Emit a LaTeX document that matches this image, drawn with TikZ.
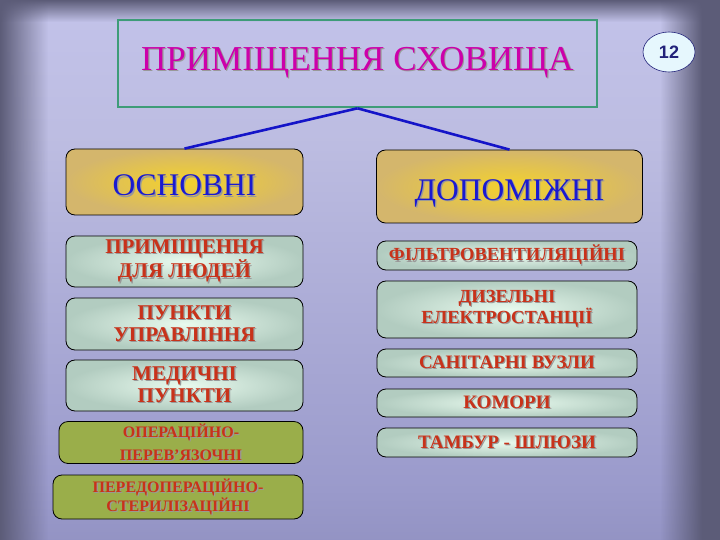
\documentclass[tikz,border=0pt]{standalone}
\usepackage{fontspec}
\setmainfont{Liberation Serif}
\newfontfamily\numfont{Liberation Sans}
\usetikzlibrary{shapes.geometric,fadings}

\definecolor{bgdark}{HTML}{5C5C78}
\definecolor{titleline}{HTML}{3E9C78}
\definecolor{titletext}{HTML}{CC00AA}
\definecolor{linkblue}{HTML}{1414C8}
\definecolor{goldout}{HTML}{D4B66C}
\definecolor{goldin}{HTML}{F4D22C}
\definecolor{mintout}{HTML}{B2CCC0}
\definecolor{mintin}{HTML}{E8FAEE}
\definecolor{olive}{HTML}{9AAE4A}
\definecolor{redtext}{HTML}{C8321A}
\definecolor{bluetext}{HTML}{1A1AD0}
\definecolor{numtext}{HTML}{22227A}

\pgfdeclareverticalshading{bgfall}{100bp}{color(0bp)=(bgdark!80!white!90!blue);
  color(30bp)=(bgdark!45!white!85!blue); color(62bp)=(bgdark!25!white!88!blue);
  color(86bp)=(bgdark!12!white!85!blue); color(95bp)=(bgdark!15!white!85!blue);
  color(100bp)=(bgdark!90!white)}
\tikzfading[name=fadeR, left color=transparent!0, right color=transparent!100]
\tikzfading[name=fadeL, left color=transparent!100, right color=transparent!0]
\tikzfading[name=fadeD, top color=transparent!0, bottom color=transparent!100]

% text with a soft grey shadow
\newcommand\shd[1]{\leavevmode\rlap{\kern1.2pt\raisebox{-1.2pt}{\textcolor{black!40}{#1}}}#1}

\tikzset{
  basebox/.style={draw=black, line width=0.8pt, rounded corners=9pt, align=center, inner sep=2pt},
  goldbox/.style={basebox, shade, inner color=goldin, outer color=goldout, text=bluetext,
    font=\fontsize{31.5}{33}\selectfont, text height=30, text depth=2, minimum height=66},
  mintbox/.style={basebox, shade, inner color=mintin, outer color=mintout, text=redtext,
    font=\bfseries\fontsize{21}{22}\selectfont},
  olivebox/.style={basebox, fill=olive, text=redtext, font=\bfseries\fontsize{16}{23}\selectfont},
  link/.style={draw=linkblue, line width=2.6pt}
}

\begin{document}
\begin{tikzpicture}[x=1pt,y=-1pt]
    % background
    \useasboundingbox (0,0) rectangle (720,540);
    \fill[bgdark] (0,0) rectangle (720,540);
    \shade[shading=bgfall] (0,0) rectangle (720,540);
    \fill[bgdark, path fading=fadeR] (0,0) rectangle (48,540);
    \fill[bgdark, path fading=fadeD] (0,0) rectangle (720,22);
    \fill[bgdark, path fading=fadeL] (660,0) rectangle (702,540);
    \fill[bgdark] (702,0) rectangle (720,540);

    % top
    \node[draw=titleline, line width=2.6pt, minimum width=479, minimum height=87,
      text=titletext, font=\fontsize{35}{37}\selectfont] (title) at (357.5,63.5) {\shd{ПРИМІЩЕННЯ СХОВИЩА}};
    \node[ellipse, draw=numtext, line width=0.6pt, fill=cyan!10!white,
      minimum width=52, minimum height=40, inner sep=0pt, text=numtext,
      font=\numfont\bfseries\fontsize{18}{20}\selectfont] (num) at (669,52) {12};

    \node[goldbox, minimum width=237] (osn) at (184.5,182) {\shd{ОСНОВНІ}};
    \node[goldbox, minimum width=266, minimum height=73] (dop) at (509.5,186.5) {\shd{ДОПОМІЖНІ}};

    \draw[link] (title.south) -- (osn.north);
    \draw[link] (title.south) -- (dop.north);

    % left column
    \node[mintbox, minimum width=237, minimum height=51] (lyudi) at (184.5,261.5) {\shd{ПРИМІЩЕННЯ}\\\shd{ДЛЯ ЛЮДЕЙ}};
    \node[mintbox, minimum width=237, minimum height=52] (upr) at (184.5,324) {\shd{ПУНКТИ}\\\shd{УПРАВЛІННЯ}};
    \node[mintbox, minimum width=237, minimum height=51] (med) at (184.5,385.5) {\shd{МЕДИЧНІ}\\\shd{ПУНКТИ}};
    \node[olivebox, minimum width=244, minimum height=39] (oper) at (181,442.5) {\shd{ОПЕРАЦІЙНО-}\\\shd{ПЕРЕВ’ЯЗОЧНІ}};
    \node[olivebox, minimum width=250, minimum height=44, font=\bfseries\fontsize{16}{19}\selectfont] (steril) at (178,497) {\shd{ПЕРЕДОПЕРАЦІЙНО-}\\\shd{СТЕРИЛІЗАЦІЙНІ}};

    % right column
    \node[mintbox, minimum width=260, minimum height=29, font=\bfseries\fontsize{18.5}{20}\selectfont] (filtr) at (507,255.5) {\shd{ФІЛЬТРОВЕНТИЛЯЦІЙНІ}};
    \node[mintbox, minimum width=260, minimum height=57, font=\bfseries\fontsize{18.5}{21}\selectfont] (dyzel) at (507,309.5) {\shd{ДИЗЕЛЬНІ}\\\shd{ЕЛЕКТРОСТАНЦІЇ}};
    \node[mintbox, minimum width=260, minimum height=28, font=\bfseries\fontsize{19}{20}\selectfont] (sanit) at (507,363) {\shd{САНІТАРНІ ВУЗЛИ}};
    \node[mintbox, minimum width=260, minimum height=28, font=\bfseries\fontsize{19}{20}\selectfont] (komory) at (507,403) {\shd{КОМОРИ}};
    \node[mintbox, minimum width=260, minimum height=29, font=\bfseries\fontsize{19}{20}\selectfont] (tambur) at (507,442.5) {\shd{ТАМБУР - ШЛЮЗИ}};
\end{tikzpicture}
\end{document}
